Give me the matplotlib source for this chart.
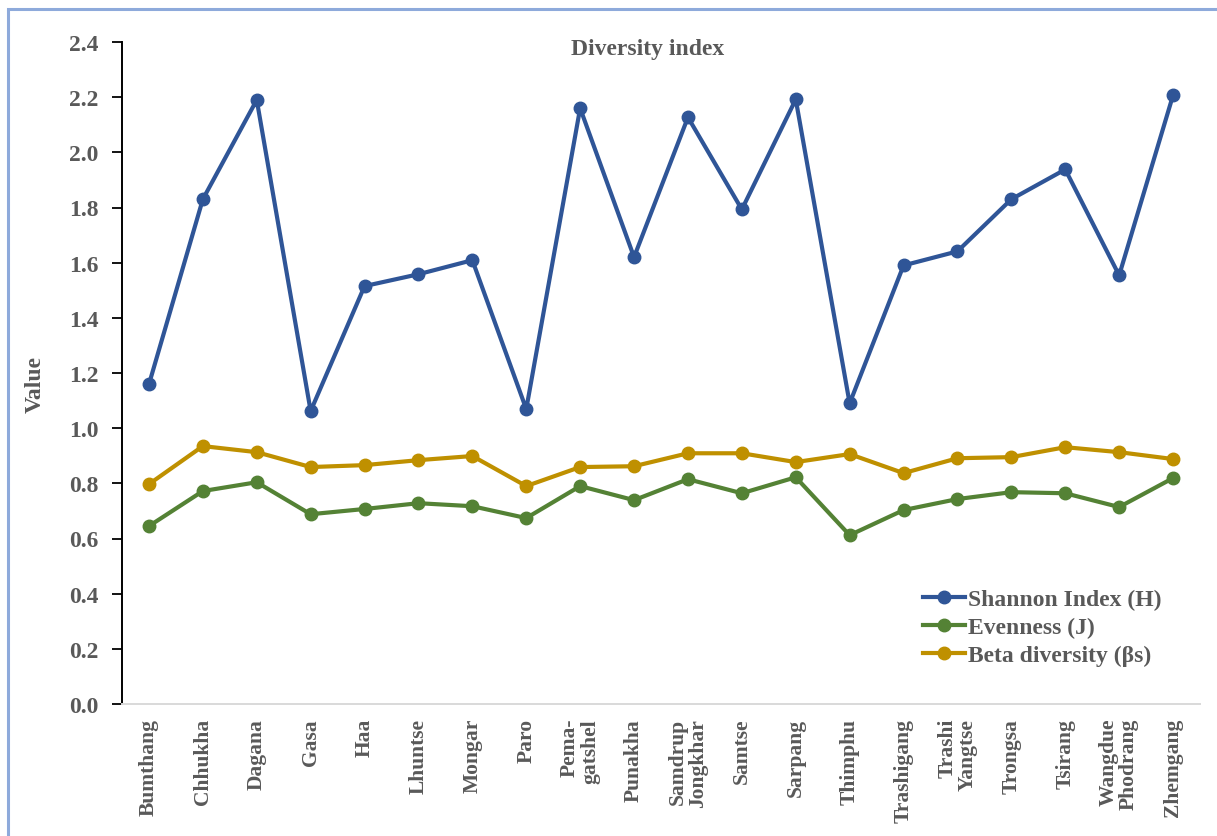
import matplotlib
matplotlib.use("Agg")
import matplotlib.pyplot as plt
from matplotlib.patches import Rectangle

districts = ["Bumthang", "Chhukha", "Dagana", "Gasa", "Haa", "Lhuntse", "Mongar", "Paro",
             "Pema-\ngatshel", "Punakha", "Samdrup\nJongkhar", "Samtse", "Sarpang", "Thimphu",
             "Trashigang", "Trashi\nYangtse", "Trongsa", "Tsirang", "Wangdue\nPhodrang", "Zhemgang"]
shannon = [1.159, 1.830, 2.190, 1.062, 1.515, 1.558, 1.609, 1.069, 2.160, 1.620,
           2.127, 1.793, 2.192, 1.090, 1.590, 1.641, 1.830, 1.938, 1.554, 2.207]
evenness = [0.645, 0.772, 0.804, 0.688, 0.707, 0.728, 0.717, 0.674, 0.790, 0.739,
            0.815, 0.764, 0.822, 0.612, 0.703, 0.743, 0.768, 0.764, 0.714, 0.819]
beta = [0.797, 0.935, 0.913, 0.859, 0.866, 0.884, 0.899, 0.790, 0.859, 0.862,
        0.909, 0.909, 0.877, 0.906, 0.837, 0.891, 0.895, 0.931, 0.913, 0.888]
yticks = [0.0, 0.2, 0.4, 0.6, 0.8, 1.0, 1.2, 1.4, 1.6, 1.8, 2.0, 2.2, 2.4]

plt.rcParams['font.family'] = ['Liberation Serif', 'DejaVu Serif']
plt.rcParams['font.weight'] = 'bold'
TXT = '#595959'

fig = plt.figure(figsize=(12.17, 8.37), dpi=100)
ax = fig.add_axes([122/1217, 1-705/837, (1200-122)/1217, (705-43)/837])

# figure border (top and left visible)
fig.patches.append(Rectangle((8/1217, -0.1), 1.2, 1 - 10/837 + 0.1, transform=fig.transFigure,
                             fill=False, edgecolor='#8eaadb', linewidth=2.2))

x = list(range(len(districts)))
ax.plot(x, shannon, color='#2F5597', lw=3, marker='o', ms=9, label='Shannon Index (H)')
ax.plot(x, evenness, color='#548235', lw=3, marker='o', ms=9, label='Evenness (J)')
ax.plot(x, beta, color='#BF9000', lw=3, marker='o', ms=9, label='Beta diversity (βs)')

ax.set_xlim(-0.5, len(districts) - 0.5)
ax.set_ylim(0, 2.4)
ax.set_yticks(yticks)
ax.set_yticklabels([f"{v:.1f}" for v in yticks], fontsize=17, color=TXT, fontweight='bold')
ax.set_xticks(x)
ax.set_xticklabels(districts, rotation=90, fontsize=15.5, color=TXT, fontweight='bold',
                   multialignment='right', va='top', ha='center', linespacing=1.0)
ax.tick_params(axis='x', length=0, pad=10)
ax.tick_params(axis='y', direction='out', length=7, width=1.3, color='black', pad=10)

for s in ['top', 'right']:
    ax.spines[s].set_visible(False)
ax.spines['left'].set_color('black')
ax.spines['left'].set_linewidth(1.4)
ax.spines['bottom'].set_color('#d9d9d9')
ax.spines['bottom'].set_linewidth(1.4)

fig.text(35/1217, 1-385/837, 'Value', rotation=90, ha='center', va='center',
         fontsize=17, color=TXT, fontweight='bold')
ax.text((648-122)/1078, (705-50)/662, 'Diversity index', transform=ax.transAxes,
        ha='center', va='center', fontsize=17, color=TXT, fontweight='bold')

leg = ax.legend(loc='upper left', bbox_to_anchor=((923-122)/1078, (705-590)/662),
                frameon=False, fontsize=17, handlelength=1.8, handletextpad=0.1,
                labelspacing=0.27, borderaxespad=0, borderpad=0)
for t in leg.get_texts():
    t.set_color(TXT)
    t.set_fontweight('bold')

fig.savefig('out.png', dpi=100, facecolor='white')
